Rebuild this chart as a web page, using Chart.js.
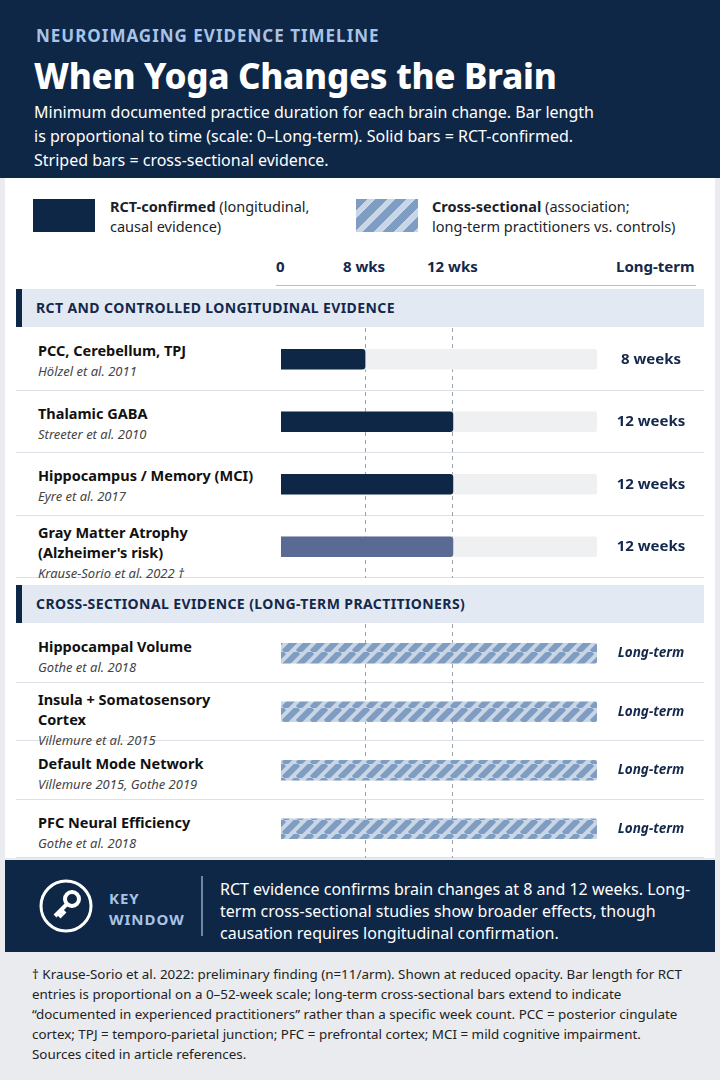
<!DOCTYPE html>
<html><head><meta charset="utf-8">
<script src="https://cdn.jsdelivr.net/npm/chart.js@4"></script>
<style>
body{margin:0;width:720px;height:1080px;background:#e9ebee;font-family:"Noto Sans",Roboto,sans-serif;position:relative;overflow:hidden}
.abs{position:absolute}
#head{left:0;top:0;width:720px;height:178px;background:#0f2746}
#panel{left:5px;top:178px;width:710px;height:680px;background:#fff}
.kick{left:36px;top:24px;color:#a9c3e6;font-size:17px;font-weight:700;letter-spacing:1px}
.title{left:34px;top:52px;color:#fff;font-size:35px;font-weight:800;letter-spacing:-0.3px}
.sub{left:34px;top:100px;width:560px;color:#fff;font-size:16px;line-height:24px}
.lg{font-size:14.5px;color:#1a1f2b;line-height:20px}
.sec{left:16px;width:688px;background:#e3e9f2;border-left:6px solid #0f2746;box-sizing:border-box;padding-left:14px;font-size:14px;font-weight:700;color:#13284a;letter-spacing:.4px}
.row{left:16px;width:688px;border-bottom:1px solid #dde1e7;box-sizing:border-box}
.rl{left:38px;font-size:14.5px;color:#111;font-weight:700;line-height:20px}
.rl i{font-weight:400;font-size:13px;color:#444}
.tk{top:256px;font-size:15px;font-weight:700;color:#13284a}
#key{left:5px;top:860px;width:710px;height:92px;background:#0f2746}
#foot{left:32px;top:964px;width:660px;font-size:13.4px;line-height:20px;color:#222}
canvas{display:block}
</style></head><body>
<div id="head" class="abs">
 <div class="abs kick">NEUROIMAGING EVIDENCE TIMELINE</div>
 <div class="abs title">When Yoga Changes the Brain</div>
 <div class="abs sub">Minimum documented practice duration for each brain change. Bar length is proportional to time (scale: 0–Long-term). Solid bars = RCT-confirmed. Striped bars = cross-sectional evidence.</div>
</div>
<div id="panel" class="abs"></div>
<div class="abs" style="left:33px;top:199px;width:62px;height:33px;background:#0f2746"></div>
<div class="abs lg" style="left:110px;top:196px"><b>RCT-confirmed</b> (longitudinal,<br>causal evidence)</div>
<div class="abs" id="lgs" style="left:356px;top:199px;width:62px;height:33px;background:repeating-linear-gradient(135deg,#7f9cc2 0 8px,#c9d6e6 8px 14px)"></div>
<div class="abs lg" style="left:432px;top:196px"><b>Cross-sectional</b> (association;<br>long-term practitioners vs. controls)</div>
<div class="abs tk" style="left:276px">0</div>
<div class="abs tk" style="left:343px">8 wks</div>
<div class="abs tk" style="left:427px">12 wks</div>
<div class="abs tk" style="left:616px">Long-term</div>
<div class="abs" style="left:276px;top:285px;width:420px;height:1px;background:#b9bec6"></div>
<div class="abs sec" style="top:289px;height:38px;line-height:38px">RCT AND CONTROLLED LONGITUDINAL EVIDENCE</div>
<div class="abs sec" style="top:585px;height:38px;line-height:38px">CROSS-SECTIONAL EVIDENCE (LONG-TERM PRACTITIONERS)</div>
<div id="rows"></div>
<div class="abs" style="left:270px;top:328px;width:434px;height:250px"><canvas id="c1"></canvas></div>
<div class="abs" style="left:270px;top:624px;width:434px;height:234px"><canvas id="c2"></canvas></div>
<div id="key" class="abs">
 <svg class="abs" style="left:33px;top:18px" width="56" height="56" viewBox="0 0 56 56"><circle cx="28" cy="28" r="25" fill="none" stroke="#fff" stroke-width="3"/><circle cx="34" cy="21" r="7" fill="none" stroke="#fff" stroke-width="4"/><path d="M29 26 L17 38 M20 35 L24 39 M23 32 L27 36" stroke="#fff" stroke-width="4" fill="none"/></svg>
 <div class="abs" style="left:104px;top:28px;color:#a9c3e6;font-size:15px;font-weight:700;letter-spacing:1px;line-height:21px">KEY<br>WINDOW</div>
 <div class="abs" style="left:196px;top:16px;width:2px;height:60px;background:#6f86a8"></div>
 <div class="abs" style="left:215px;top:18px;width:480px;color:#fff;font-size:16px;line-height:22px">RCT evidence confirms brain changes at 8 and 12 weeks. Long-term cross-sectional studies show broader effects, though causation requires longitudinal confirmation.</div>
</div>
<div id="foot" class="abs">† Krause-Sorio et al. 2022: preliminary finding (n=11/arm). Shown at reduced opacity. Bar length for RCT entries is proportional on a 0–52-week scale; long-term cross-sectional bars extend to indicate “documented in experienced practitioners” rather than a specific week count. PCC = posterior cingulate cortex; TPJ = temporo-parietal junction; PFC = prefrontal cortex; MCI = mild cognitive impairment. Sources cited in article references.</div>
<script>
// RCT rows
const rctLabels = ['PCC, Cerebellum, TPJ', 'Thalamic GABA', 'Hippocampus / Memory (MCI)', 'Gray Matter Atrophy<br>(Alzheimer\'s risk)'];
const rctCites = ['Hölzel et al. 2011', 'Streeter et al. 2010', 'Eyre et al. 2017', 'Krause-Sorio et al. 2022 †'];
const rctText = ['8 weeks', '12 weeks', '12 weeks', '12 weeks'];
// position along the 0–Long-term track (percent), as drawn
const rctValues = [26.6, 54.4, 54.4, 54.4];
// cross-sectional rows
const csLabels = ['Hippocampal Volume', 'Insula + Somatosensory<br>Cortex', 'Default Mode Network', 'PFC Neural Efficiency'];
const csCites = ['Gothe et al. 2018', 'Villemure et al. 2015', 'Villemure 2015, Gothe 2019', 'Gothe et al. 2018'];
const csText = ['Long-term', 'Long-term', 'Long-term', 'Long-term'];
const csValues = [100, 100, 100, 100];
// axis ticks on the same track scale
const tickPos = [26.6, 54.4];

// left-hand row labels
let html = '';
function addRows(labels, cites, top, h) {
    labels.forEach((l, i) => {
        const y = top + i * h;
        html += `<div class="abs row" style="top:${y}px;height:${h}px"></div>`;
        const two = l.includes('<br>');
        html += `<div class="abs rl" style="top:${y + (two ? 6 : 12)}px">${l}<br><i>${cites[i]}</i></div>`;
    });
}
addRows(rctLabels, rctCites, 328, 62.5);
addRows(csLabels, csCites, 624, 58.5);
document.getElementById('rows').innerHTML = html;

function stripes() {
    const c = document.createElement('canvas');
    c.width = 14; c.height = 14;
    const g = c.getContext('2d');
    g.fillStyle = '#c9d6e6'; g.fillRect(0, 0, 14, 14);
    g.strokeStyle = '#7f9cc2'; g.lineWidth = 6;
    for (let k = -14; k <= 28; k += 14) { g.beginPath(); g.moveTo(k, 14); g.lineTo(k + 14, 0); g.stroke(); }
    return g.createPattern(c, 'repeat');
}

const valueText = {
    id: 'valueText',
    afterDatasetsDraw(chart, args, opts) {
        const ctx = chart.ctx;
        const meta = chart.getDatasetMeta(1);
        ctx.save();
        ctx.fillStyle = '#13284a';
        ctx.textAlign = 'center';
        ctx.textBaseline = 'middle';
        ctx.font = opts.italic ? 'italic bold 13.5px "Noto Sans"' : 'bold 15px "Noto Sans"';
        meta.data.forEach((b, i) => ctx.fillText(opts.labels[i], chart.chartArea.right + 54, b.y));
        ctx.restore();
    }
};

function generateTimeline(canvasId, values, colors, texts, italic) {
    const config = {
        type: 'bar',
        data: {
            labels: values.map((v, i) => i),
            datasets: [
                { data: values.map(() => 100), backgroundColor: '#eff0f2', borderRadius: 3, barThickness: 20, grouped: false, order: 2 },
                { data: values, backgroundColor: colors, borderRadius: 3, barThickness: 20, grouped: false, order: 1 }
            ]
        },
        options: {
            indexAxis: 'y',
            responsive: true,
            maintainAspectRatio: false,
            animation: false,
            layout: { padding: { left: 11, right: 107 } },
            plugins: { legend: { display: false }, tooltip: { enabled: false }, valueText: { labels: texts, italic: italic } },
            scales: {
                x: {
                    min: 0, max: 100,
                    afterBuildTicks: s => { s.ticks = tickPos.map(v => ({ value: v })); },
                    ticks: { display: false },
                    grid: { color: '#9aa1ab', drawTicks: false },
                    border: { display: false, dash: [4, 4] }
                },
                y: { display: false }
            }
        },
        plugins: [valueText]
    };
    new Chart(document.getElementById(canvasId), config);
}

generateTimeline('c1', rctValues, ['#0f2746', '#0f2746', '#0f2746', '#5b6a94'], rctText, false);
generateTimeline('c2', csValues, stripes(), csText, true);
</script>
</body></html>
